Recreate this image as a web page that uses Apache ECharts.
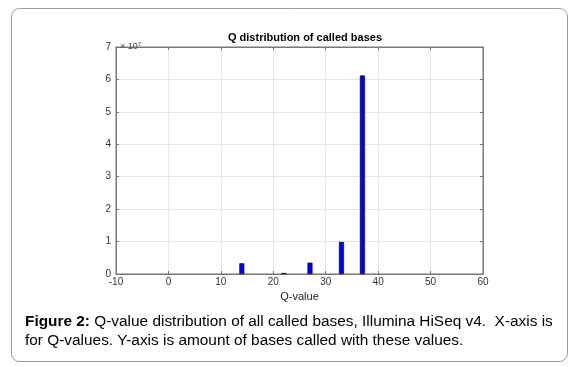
<!DOCTYPE html>
<html>
<head>
<meta charset="utf-8">
<script src="https://cdn.jsdelivr.net/npm/echarts@6/dist/echarts.min.js"></script>
<style>
	html, body { margin: 0; padding: 0; background: #fff; }
	#main { width: 576px; height: 367px; }
</style>
</head>
<body>
<div id="main"></div>
<script>
// Q-values and amount of bases called with them
var qValues = [14, 22, 27, 33, 37];
var baseCounts = [0.33e7, 0.03e7, 0.35e7, 0.99e7, 6.12e7];
var xTicks = [-10, 0, 10, 20, 30, 40, 50, 60];
var yTicks = [0, 1, 2, 3, 4, 5, 6, 7];

var chart = echarts.init(document.getElementById('main'));

var seriesData = [];
for (var i = 0; i < qValues.length; i++) {
	seriesData.push([qValues[i], baseCounts[i]]);
}

var font = 'Liberation Sans, Arial';
var axisLine = { show: true, onZero: false, lineStyle: { color: '#777', width: 1 } };
var axisTick = { show: true, inside: true, length: 3, lineStyle: { color: '#777' } };

var option = {
	backgroundColor: '#fff',
	animation: false,
	title: [
		{
			text: 'Q distribution of called bases',
			left: 300, top: 27, textAlign: 'center',
			textStyle: { fontFamily: font, fontSize: 11, fontWeight: 'bold', color: '#000' }
		},
		{
			text: '{s|\u00d7 10}{p|7}',
			left: 115, top: 36,
			textStyle: {
				fontWeight: 'normal',
				rich: {
					s: { fontFamily: font, fontSize: 9, color: '#444' },
					p: { fontFamily: font, fontSize: 6, color: '#444', verticalAlign: 'top', padding: [0, 0, 6, 0] }
				}
			}
		},
		{
			text: '{b|Figure 2:} Q-value distribution of all called bases, Illumina HiSeq v4.  X-axis is\nfor Q-values. Y-axis is amount of bases called with these values.',
			left: 20, top: 307,
			textStyle: {
				fontFamily: font, fontSize: 15.4, fontWeight: 'normal', color: '#000', lineHeight: 19,
				rich: {
					b: { fontFamily: font, fontSize: 15.4, fontWeight: 'bold', color: '#000', lineHeight: 19 }
				}
			}
		}
	],
	graphic: [
		{
			type: 'rect',
			shape: { x: 11.5, y: 8.5, width: 556, height: 353, r: 8 },
			style: { fill: 'none', stroke: '#9a9a9a', lineWidth: 1 },
			z: -1
		}
	],
	grid: {
		left: 116, right: 93, top: 47, bottom: 93,
		show: true, borderColor: '#777', borderWidth: 1
	},
	xAxis: [
		{
			type: 'value', min: -10, max: 60, interval: 10,
			name: 'Q-value', nameLocation: 'middle', nameGap: 14,
			nameTextStyle: { fontFamily: font, fontSize: 11, color: '#222' },
			axisLine: axisLine,
			axisTick: axisTick,
			axisLabel: { margin: 3, fontFamily: font, fontSize: 10, color: '#333',
				formatter: function(v) { return xTicks.indexOf(v) >= 0 ? String(v) : ''; } },
			splitLine: { show: true, lineStyle: { color: '#e6e6e6' } }
		},
		{
			type: 'value', min: -10, max: 60, interval: 10, position: 'top',
			axisLine: axisLine,
			axisTick: axisTick,
			axisLabel: { show: false },
			splitLine: { show: false }
		}
	],
	yAxis: [
		{
			type: 'value', min: 0, max: 7e7, interval: 1e7,
			axisLine: axisLine,
			axisTick: axisTick,
			axisLabel: { margin: 5, fontFamily: font, fontSize: 10, color: '#333',
				formatter: function(v) { var t = Math.round(v / 1e7); return yTicks.indexOf(t) >= 0 ? String(t) : ''; } },
			splitLine: { show: true, lineStyle: { color: '#e6e6e6' } }
		},
		{
			type: 'value', min: 0, max: 7e7, interval: 1e7, position: 'right',
			axisLine: axisLine,
			axisTick: axisTick,
			axisLabel: { show: false },
			splitLine: { show: false }
		}
	],
	series: [
		{
			type: 'bar',
			xAxisIndex: 0, yAxisIndex: 0,
			barWidth: 5,
			itemStyle: { color: '#0000ff', borderColor: '#000', borderWidth: 0.6 },
			data: seriesData
		}
	]
};

chart.setOption(option);
</script>
</body>
</html>
